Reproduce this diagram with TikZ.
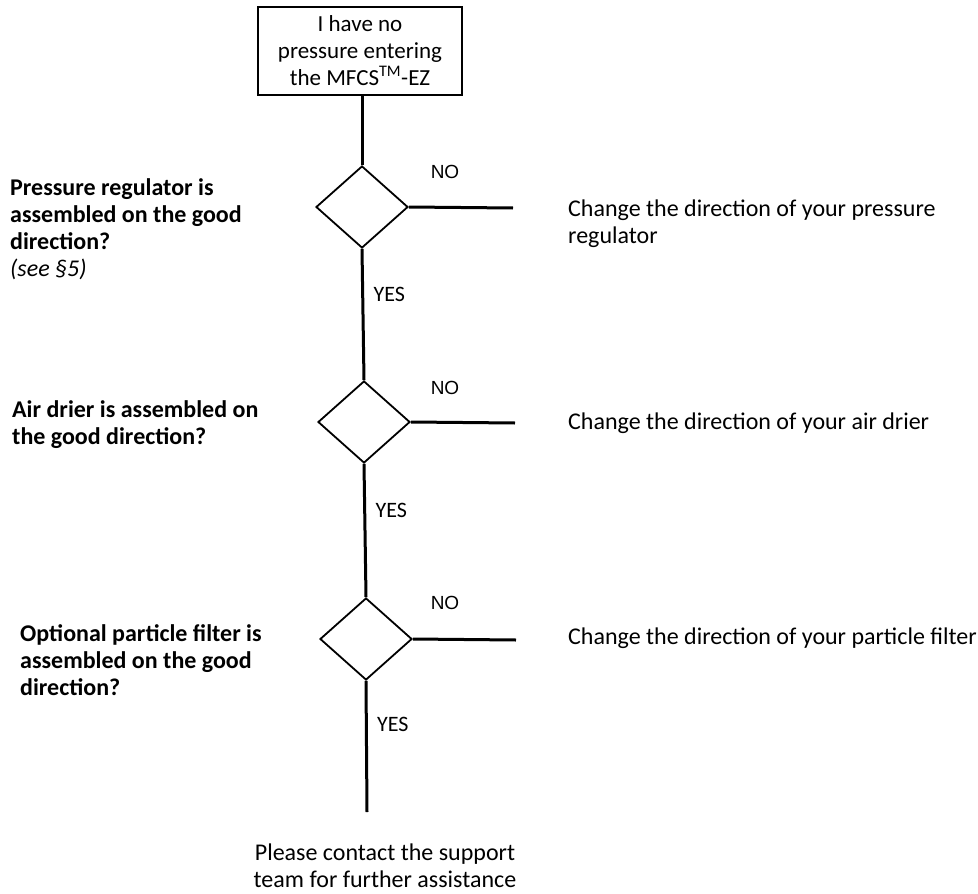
\documentclass[tikz,border=0pt]{standalone}
\usepackage{fontspec}
\setmainfont{Carlito}
\newfontfamily\arialfont{Liberation Sans}
\usetikzlibrary{shapes.geometric, positioning}

\begin{document}
\begin{tikzpicture}[
        x=1pt, y=-1pt,
        font=\fontsize{24}{27}\selectfont,
        % Styles
        startbox/.style={rectangle, draw, line width=2.8pt, minimum width=204pt, minimum height=88pt, align=center, inner sep=2pt, font=\fontsize{23}{27}\selectfont},
        check/.style={diamond, draw, line width=1.8pt, minimum width=92pt, minimum height=82pt, inner sep=0pt},
        question/.style={anchor=west, align=left, inner sep=0pt, font=\fontsize{24}{27}\selectfont\bfseries},
        remedy/.style={anchor=west, align=left, inner sep=0pt},
        flow/.style={line width=3pt},
        nolabel/.style={font=\fontsize{19}{20}\selectfont\arialfont},
        yeslabel/.style={font=\fontsize{22}{24}\selectfont}
    ]
    \useasboundingbox (0,0) rectangle (978,894);

    % --- START ---
    \node (start) [startbox] at (360,51) {I have no\\pressure entering\\the MFCS\textsuperscript{TM}-EZ};

    % --- CHECKS ---
    \node (regcheck) [check] at (362,207) {};
    \node (driercheck) [check] at (364,422) {};
    \node (filtercheck) [check] at (366,639) {};

    % --- QUESTIONS (left) ---
    \node (regq) [question] at (10,229) {Pressure regulator is\\assembled on the good\\direction?\\{\mdseries\itshape (see \S5)}};
    \node (drierq) [question] at (12,425) {Air drier is assembled on\\the good direction?};
    \node (filterq) [question] at (20,660) {Optional particle filter is\\assembled on the good\\direction?};

    % --- REMEDIES (right) ---
    \node (regfix) [remedy] at (568,224) {Change the direction of your pressure\\regulator};
    \node (drierfix) [remedy] at (568,423) {Change the direction of your air drier};
    \node (filterfix) [remedy] at (568,638) {Change the direction of your particle filter};

    % --- END ---
    \node (support) [align=center, inner sep=0pt] at (385,866) {Please contact the support\\team for further assistance};

    % --- NO branch ends ---
    \coordinate (regno) at (513,208);
    \coordinate (drierno) at (515,423);
    \coordinate (filterno) at (516,640);
    \coordinate (last) at (367,812);

    % --- MAIN FLOW ---
    \draw [flow] (start.south -| regcheck.north) -- (regcheck.north);
    \draw [flow] (regcheck.south) -- node[yeslabel, pos=0.35, right=6pt] {YES} (driercheck.north);
    \draw [flow] (driercheck.south) -- node[yeslabel, pos=0.35, right=6pt] {YES} (filtercheck.north);
    \draw [flow] (filtercheck.south) -- node[yeslabel, pos=0.33, right=6pt] {YES} (last);

    % --- NO BRANCHES ---
    \draw [flow] (regcheck.east) -- (regno);
    \draw [flow] (driercheck.east) -- (drierno);
    \draw [flow] (filtercheck.east) -- (filterno);
    \node [nolabel] at (445,172) {NO};
    \node [nolabel] at (445,388) {NO};
    \node [nolabel] at (445,603) {NO};

\end{tikzpicture}
\end{document}
